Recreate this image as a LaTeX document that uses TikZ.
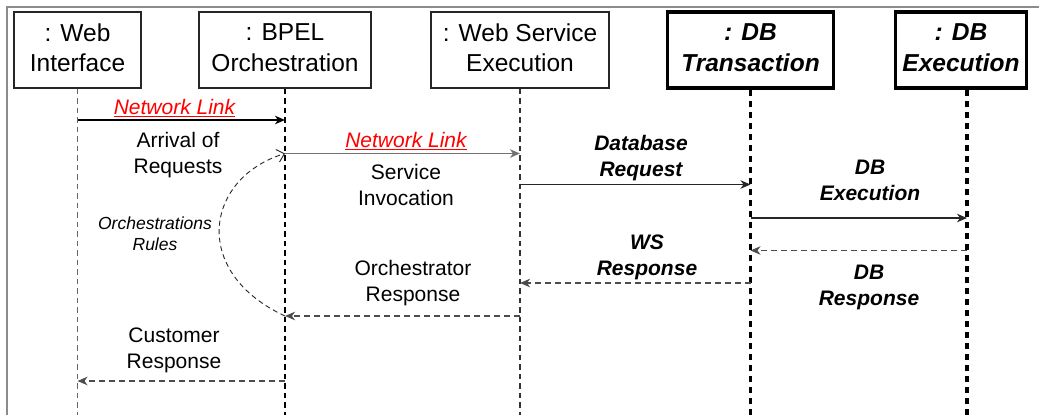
\documentclass[tikz,border=0pt]{standalone}
\usepackage{fontspec}
\setmainfont{Liberation Sans}
\usetikzlibrary{arrows.meta}

\tikzset{
  obj/.style={draw=black!85, line width=1.2pt, minimum height=76pt, align=center,
              inner sep=0pt, font=\fontsize{24.5}{30.5}\selectfont},
  dbobj/.style={obj, draw=black, line width=3.6pt, font=\fontsize{24.5}{30.5}\selectfont\bfseries\itshape},
  life/.style={line width=1.2pt, dash pattern=on 5.5pt off 4pt},
  dblife/.style={line width=3.6pt, dash pattern=on 6.5pt off 4.5pt},
  msg/.style={line width=1.2pt, draw=black!85, -{Stealth[length=10pt,width=8.5pt,inset=3pt]}},
  reply/.style={msg, draw=black!70, dash pattern=on 6pt off 4pt},
  lbl/.style={align=center, inner sep=0pt, font=\fontsize{21}{26}\selectfont},
  dblbl/.style={lbl, font=\fontsize{21}{26.5}\selectfont\bfseries\itshape},
  netlbl/.style={lbl, text=red, font=\fontsize{21}{26}\selectfont\itshape},
  rulelbl/.style={lbl, font=\fontsize{17.5}{21.5}\selectfont\itshape}
}

\begin{document}
\begin{tikzpicture}[x=1pt, y=-1pt]
\useasboundingbox (0,0) rectangle (1039,415);

% outer frame (top and left edges)
\draw[black!45, line width=1.2pt] (7,415) -- (7,7) -- (1039,7);

% participants
\node[obj, minimum width=127pt] (wi) at (77.5,50) {: Web\\Interface\vphantom{g}};
\node[obj, minimum width=172pt] (bp) at (285,50) {: BPEL\\Orchestration\vphantom{g}};
\node[obj, minimum width=178pt] (ws) at (520,50) {: Web Service\\Execution\vphantom{g}};
\node[dbobj, minimum width=166pt] (dt) at (750.5,50) {: DB\\Transaction\vphantom{g}};
\node[dbobj, minimum width=131pt] (de) at (961,50) {: DB\\Execution\vphantom{g}};

% lifeline ends
\coordinate (bottom) at (0,415);
\coordinate (deTop) at ([xshift=6pt]de.south);
\coordinate (deBot) at (deTop |- bottom);

% lifelines
\draw[life, black!60] (wi.south) -- (wi.south |- bottom);
\draw[life, black] (bp.south) -- (bp.south |- bottom);
\draw[life, black!80] (ws.south) -- (ws.south |- bottom);
\draw[dblife] (dt.south) -- (dt.south |- bottom);
\draw[dblife] (deTop) -- (deBot);

% message rows
\coordinate (r1) at (0,120);
\coordinate (r2) at (0,153.5);
\coordinate (r3) at (0,184.5);
\coordinate (r4) at (0,218);
\coordinate (r5) at (0,250.5);
\coordinate (r6) at (0,283);
\coordinate (r7) at (0,316);
\coordinate (r8) at (0,381);

% messages
\draw[msg, draw=black] (wi.south |- r1) -- (bp.south |- r1);
\draw[msg, draw=black!55] (bp.south |- r2) -- (ws.south |- r2);
\draw[msg] (ws.south |- r3) -- (dt.south |- r3);
\draw[msg] (dt.south |- r4) -- (deTop |- r4);
\draw[reply] (deTop |- r5) -- (dt.south |- r5);
\draw[reply] (dt.south |- r6) -- (ws.south |- r6);
\draw[reply] (ws.south |- r7) -- (bp.south |- r7);
\draw[reply] (bp.south |- r8) -- (wi.south |- r8);

% orchestration rules loop
\draw[line width=0.9pt, black!85, dash pattern=on 5pt off 3.5pt,
      -{Straight Barb[length=7pt,width=13pt]}]
  (bp.south |- r7) .. controls (190,272) and (205,178) .. (bp.south |- r2);

% labels
\node[netlbl] (n1) at (174.5,108) {\underline{Network Link}};
\node[lbl] (l1) at (178,155) {Arrival of\\Requests};
\node[netlbl] (n2) at (406,141) {\underline{Network Link}};
\node[lbl] (l2) at (406,184.5) {Service\\Invocation};
\node[dblbl] (l3) at (641,158) {Database\\Request};
\node[dblbl] (l4) at (870,180.5) {DB\\Execution};
\node[dblbl] (l5) at (647,257.5) {WS\\Response};
\node[dblbl] (l6) at (869,287.5) {DB\\Response};
\node[lbl] (l7) at (413,283.5) {Orchestrator\\Response};
\node[lbl] (l8) at (174,350) {Customer\\Response};
\node[rulelbl] (l9) at (155,233.5) {Orchestrations\\Rules};
\end{tikzpicture}
\end{document}
